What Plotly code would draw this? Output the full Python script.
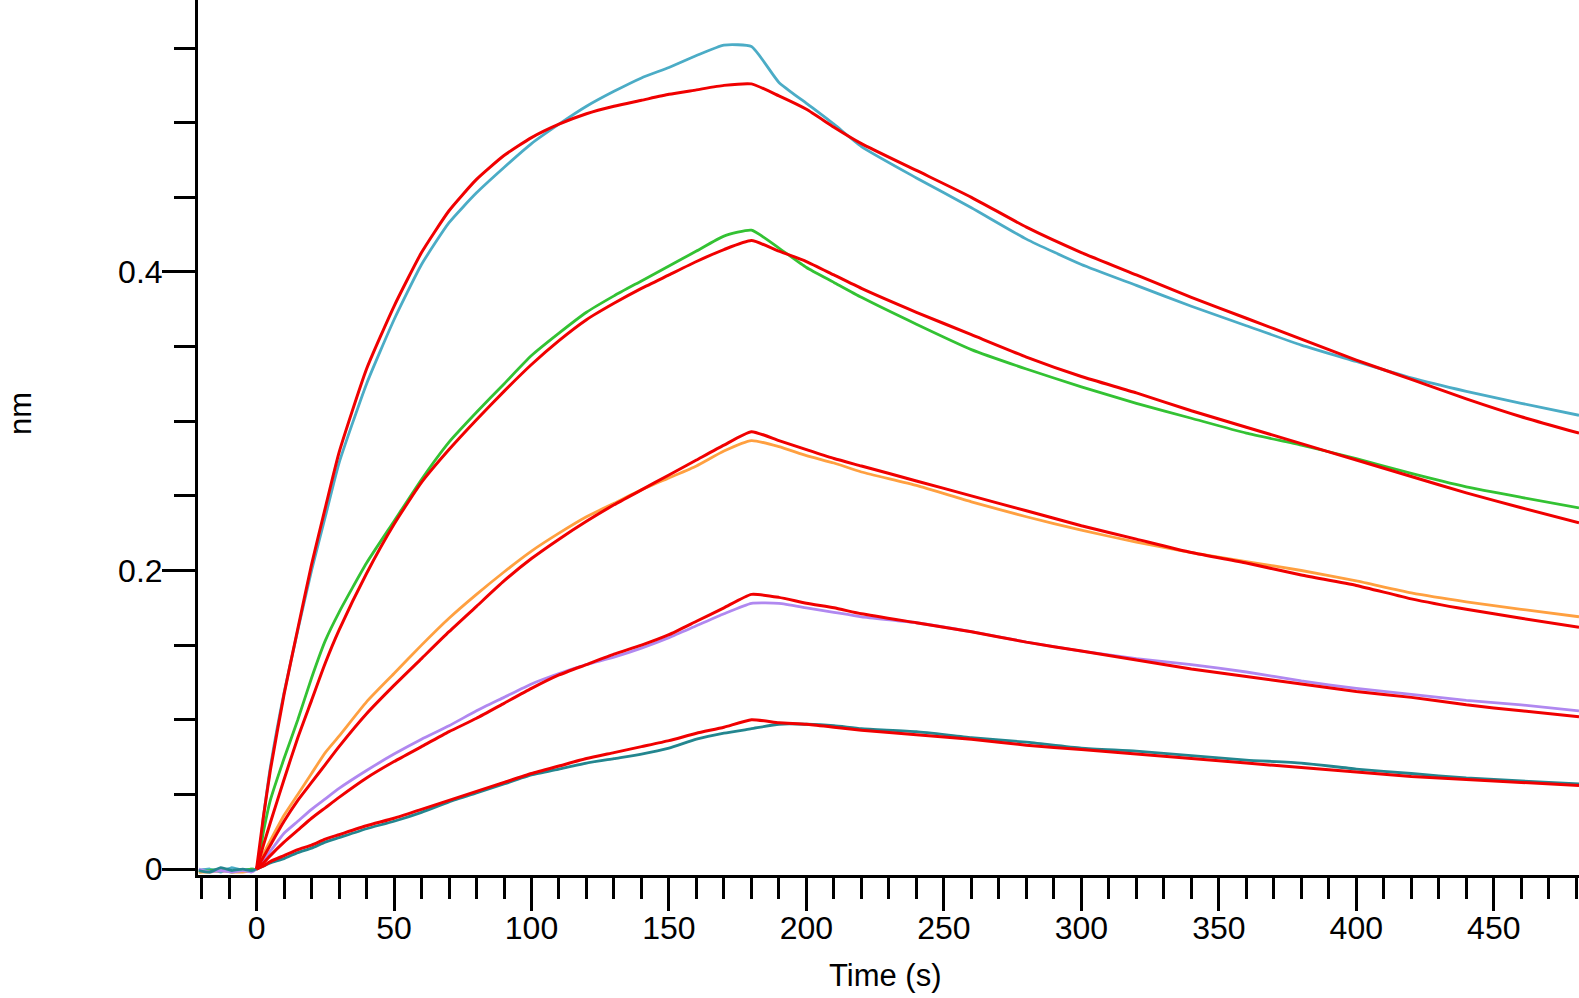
import plotly.graph_objects as go

# Time points (s); first six are the pre-association baseline
time_s = [-21, -17, -13, -9, -5, -2,
          0, 2.5, 5, 10, 15, 20, 25, 30,
          40, 50, 60, 70, 80, 90, 100, 110, 120, 130, 140, 150, 160, 170, 180,
          190, 200, 210, 220,
          240, 260, 280, 300, 320, 340, 360, 380, 400, 420, 440, 460,
          481]

# Measured responses (nm)
data_c1 = [-0.001, 0.000, -0.002, 0.001, -0.001, 0.000,
           0, 0.035, 0.068, 0.118, 0.160, 0.200, 0.236, 0.272,
           0.325, 0.368, 0.405, 0.433, 0.453, 0.470, 0.486, 0.499, 0.511, 0.521, 0.530, 0.537, 0.545, 0.552, 0.551,
           0.527, 0.513, 0.499, 0.484,
           0.463, 0.443, 0.422, 0.405, 0.391, 0.377, 0.364, 0.351, 0.340, 0.329, 0.320, 0.312,
           0.304]
data_c2 = [-0.002, -0.001, 0.000, -0.002, -0.001, 0.000,
           0, 0.025, 0.046, 0.074, 0.100, 0.128, 0.153, 0.172,
           0.205, 0.233, 0.261, 0.286, 0.306, 0.325, 0.344, 0.359, 0.373, 0.384, 0.394, 0.404, 0.414, 0.424, 0.428,
           0.416, 0.403, 0.393, 0.383,
           0.365, 0.348, 0.335, 0.323, 0.312, 0.302, 0.292, 0.284, 0.275, 0.265, 0.256, 0.249,
           0.242]
data_c3 = [-0.002, -0.002, -0.001, -0.002, -0.002, -0.001,
           0, 0.010, 0.019, 0.036, 0.050, 0.064, 0.078, 0.089,
           0.112, 0.131, 0.150, 0.168, 0.184, 0.199, 0.213, 0.225, 0.236, 0.245, 0.254, 0.262, 0.270, 0.280, 0.287,
           0.283, 0.277, 0.272, 0.266,
           0.257, 0.246, 0.236, 0.227, 0.219, 0.212, 0.206, 0.200, 0.193, 0.185, 0.179, 0.174,
           0.169]
data_c4 = [0.000, -0.002, -0.001, -0.002, -0.001, -0.002,
           0, 0.006, 0.012, 0.024, 0.032, 0.040, 0.047, 0.054,
           0.066, 0.077, 0.087, 0.096, 0.106, 0.115, 0.124, 0.131, 0.137, 0.142, 0.148, 0.155, 0.163, 0.171, 0.178,
           0.178, 0.175, 0.172, 0.169,
           0.165, 0.159, 0.152, 0.146, 0.141, 0.137, 0.132, 0.126, 0.121, 0.117, 0.113, 0.110,
           0.106]
data_c5 = [-0.001, -0.002, 0.001, -0.001, 0.000, -0.001,
           0, 0.002, 0.004, 0.007, 0.011, 0.014, 0.018, 0.021,
           0.027, 0.032, 0.038, 0.045, 0.051, 0.057, 0.063, 0.067, 0.071, 0.074, 0.077, 0.081, 0.087, 0.091, 0.094,
           0.097, 0.097, 0.096, 0.094,
           0.092, 0.088, 0.085, 0.081, 0.079, 0.076, 0.073, 0.071, 0.067, 0.064, 0.061, 0.059,
           0.057]

# Global fit curves (nm), starting at t = 0
fit_c1 = [0, 0.035, 0.066, 0.117, 0.161, 0.204, 0.242, 0.279,
          0.335, 0.377, 0.413, 0.441, 0.462, 0.478, 0.490, 0.499, 0.506, 0.511, 0.515, 0.519, 0.522, 0.525, 0.526,
          0.518, 0.509, 0.497, 0.486,
          0.468, 0.450, 0.430, 0.413, 0.398, 0.383, 0.369, 0.355, 0.341, 0.328, 0.315, 0.303,
          0.292]
fit_c2 = [0, 0.016, 0.031, 0.060, 0.088, 0.113, 0.138, 0.160,
          0.198, 0.231, 0.259, 0.281, 0.301, 0.320, 0.338, 0.354, 0.368, 0.379, 0.389, 0.398, 0.407, 0.415, 0.421,
          0.414, 0.407, 0.398, 0.389,
          0.373, 0.358, 0.343, 0.330, 0.319, 0.307, 0.296, 0.285, 0.274, 0.263, 0.252, 0.242,
          0.232]
fit_c3 = [0, 0.008, 0.016, 0.032, 0.046, 0.058, 0.070, 0.082,
          0.104, 0.123, 0.141, 0.159, 0.176, 0.193, 0.208, 0.221, 0.233, 0.244, 0.254, 0.264, 0.274, 0.284, 0.293,
          0.287, 0.281, 0.275, 0.270,
          0.260, 0.250, 0.240, 0.230, 0.221, 0.212, 0.205, 0.197, 0.190, 0.181, 0.174, 0.168,
          0.162]
fit_c4 = [0, 0.004, 0.009, 0.018, 0.026, 0.034, 0.041, 0.048,
          0.061, 0.072, 0.082, 0.092, 0.101, 0.111, 0.121, 0.130, 0.137, 0.144, 0.150, 0.157, 0.166, 0.175, 0.184,
          0.182, 0.178, 0.175, 0.171,
          0.165, 0.159, 0.152, 0.146, 0.140, 0.134, 0.129, 0.124, 0.119, 0.115, 0.110, 0.106,
          0.102]
fit_c5 = [0, 0.002, 0.005, 0.009, 0.013, 0.016, 0.020, 0.023,
          0.029, 0.034, 0.040, 0.046, 0.052, 0.058, 0.064, 0.069, 0.074, 0.078, 0.082, 0.086, 0.091, 0.095, 0.100,
          0.098, 0.097, 0.095, 0.093,
          0.090, 0.087, 0.083, 0.080, 0.077, 0.074, 0.071, 0.068, 0.065, 0.062, 0.060, 0.058,
          0.056]

fit_time = [t for t in time_s if t >= 0]

data_series = [data_c1, data_c2, data_c3, data_c4, data_c5]
data_colors = ["#4BACC6", "#33C233", "#FFA040", "#B088F0", "#23868F"]
fit_series = [fit_c1, fit_c2, fit_c3, fit_c4, fit_c5]
fit_color = "#F00000"

FONT = "Liberation Sans, Arial, sans-serif"

fig = go.Figure()
for ys, col in zip(data_series, data_colors):
    fig.add_trace(go.Scatter(x=time_s, y=ys, mode="lines",
                             line=dict(color=col, width=2.8, shape="spline", smoothing=0.5),
                             showlegend=False, hoverinfo="skip"))
for ys in fit_series:
    fig.add_trace(go.Scatter(x=fit_time, y=ys, mode="lines",
                             line=dict(color=fit_color, width=3, shape="spline", smoothing=0.5),
                             showlegend=False, hoverinfo="skip"))

axis_common = dict(showline=True, linecolor="black", linewidth=3, showgrid=False,
                   zeroline=False, ticks="outside", tickcolor="black", tickwidth=3,
                   ticklen=33, tickfont=dict(family=FONT, size=32, color="black"))

fig.update_xaxes(range=[-21.3, 481], tick0=0, dtick=50, ticklabelstandoff=-10,
                 minor=dict(dtick=10, tick0=0, ticks="outside", ticklen=21,
                            tickwidth=3, tickcolor="black", showgrid=False),
                 **axis_common)
fig.update_yaxes(range=[-0.004, 0.5822], tick0=0, dtick=0.2, ticklabelstandoff=-7,
                 minor=dict(dtick=0.05, tick0=0, ticks="outside", ticklen=21,
                            tickwidth=3, tickcolor="black", showgrid=False),
                 **axis_common)

fig.add_annotation(text="nm", xref="paper", yref="paper",
                   x=(20 - 198) / 1381, y=(875 - 414) / 875,
                   textangle=-90, showarrow=False, xanchor="center", yanchor="middle",
                   font=dict(family=FONT, size=31, color="black"))
fig.add_annotation(text="Time (s)", xref="paper", yref="paper",
                   x=(885 - 198) / 1381, y=(875 - 975) / 875,
                   showarrow=False, xanchor="center", yanchor="middle",
                   font=dict(family=FONT, size=31, color="black"))

fig.update_layout(width=1579, height=998,
                  margin=dict(l=198, r=0, t=0, b=123, pad=0),
                  paper_bgcolor="white", plot_bgcolor="white",
                  showlegend=False)

fig.write_html("out.html")
